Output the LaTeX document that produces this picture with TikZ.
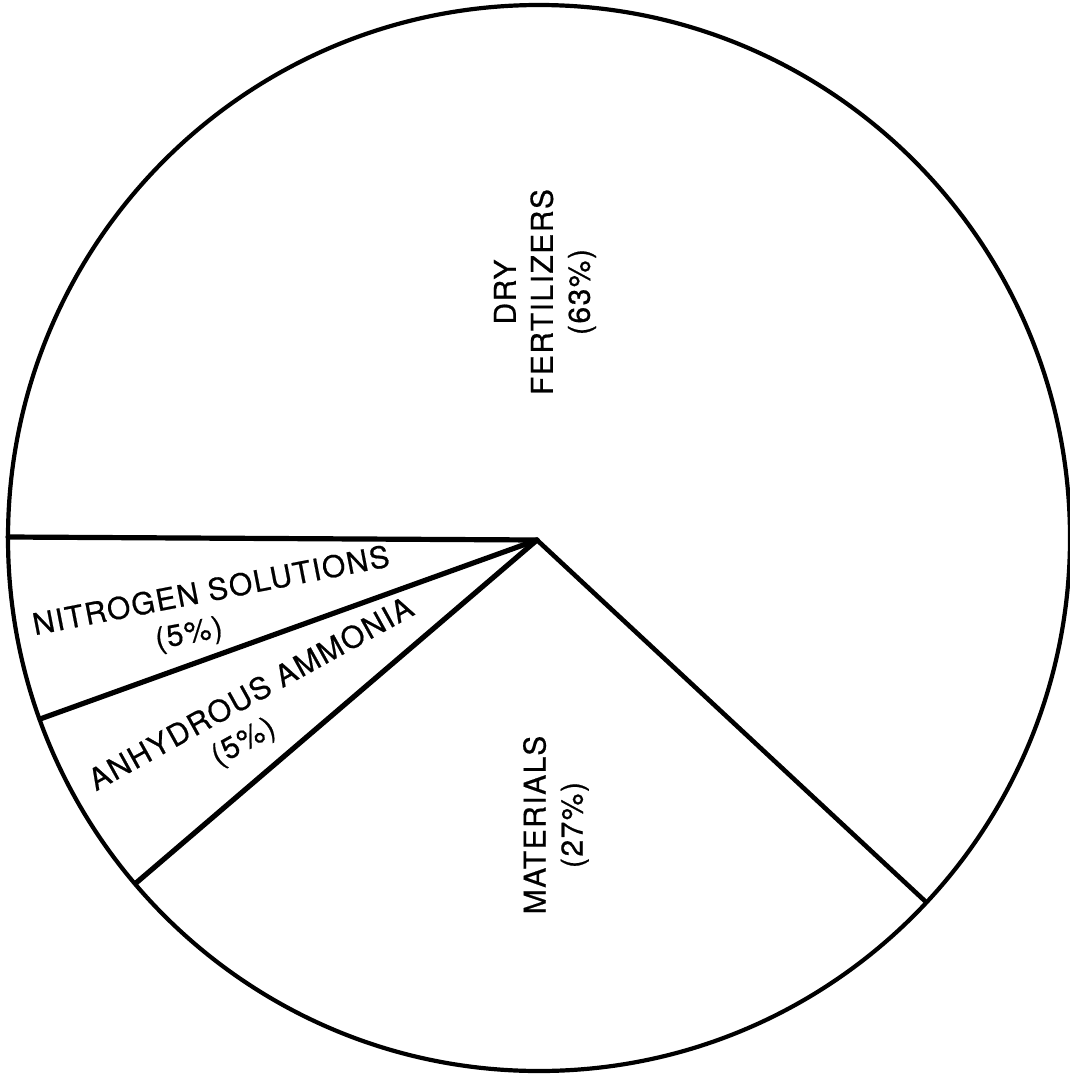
\documentclass[tikz,border=0pt]{standalone}
\usepackage{fontspec}
\setmainfont{TeX Gyre Heros}[LetterSpace=5,FakeBold=0.6]

\begin{document}
\begin{tikzpicture}[x=1pt,y=1pt,yscale=-1,xscale=1,
  rim/.style={line width=4.2pt},
  ray/.style={line width=5.2pt, line cap=round},
  slice/.style={align=center, inner sep=0pt, font=\fontsize{30}{37}\selectfont}]
\useasboundingbox (0,0) rectangle (1070,1076);

%Shape: Pie outline
\draw [rim] (539,538) ellipse [x radius=531, y radius=533];

%Points: hub and rim ends
\coordinate (hub) at (537,540);
\coordinate (rimW) at (8,537);
\coordinate (rimNS) at (40,719);
\coordinate (rimAA) at (136,883);
\coordinate (rimMT) at (926,902);

%Straight Lines
\draw [ray] (hub) -- (rimW);
\draw [ray] (hub) -- (rimNS);
\draw [ray] (hub) -- (rimAA);
\draw [ray, line width=4.6pt] (hub) -- (rimMT);

% Text Node
\node [slice, rotate=90] (dry) at (545,292) {DRY\\FERTILIZERS\\(63\%)};
% Text Node
\node [slice, rotate=90] (mat) at (556,825) {MATERIALS\\(27\%)};
% Text Node
\node [slice, rotate=11] (nitro) at (215,611) {NITROGEN SOLUTIONS\\(5\%)\rule{2em}{0pt}};
% Text Node
\node [slice, rotate=29] (anhyd) at (261,712) {ANHYDROUS AMMONIA\\(5\%)\rule{2em}{0pt}};

\end{tikzpicture}
\end{document}
